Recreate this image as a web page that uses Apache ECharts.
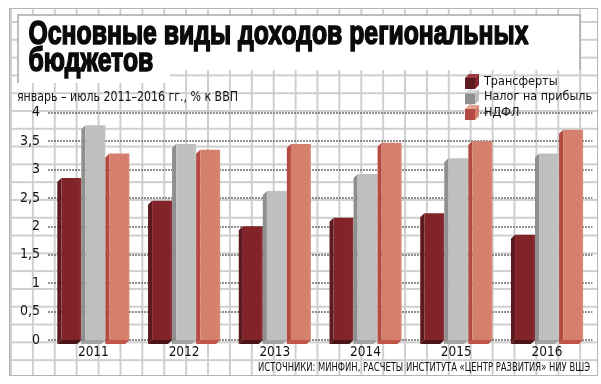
<!DOCTYPE html>
<html>
<head>
<meta charset="utf-8">
<script src="https://cdn.jsdelivr.net/npm/echarts@6/dist/echarts.min.js"></script>
<style>
  html, body { margin: 0; padding: 0; background: #fff; }
  #wrap { position: relative; width: 601px; height: 384px; overflow: hidden; background: #fff; }
  #paper {
    position: absolute; left: 9px; top: 8px; width: 587px; height: 366px;
    border: 1.5px solid #b4b4b4;
    background-image:
      linear-gradient(to right, #cfcfcf 1.5px, transparent 1.5px),
      linear-gradient(to bottom, #cfcfcf 1.5px, transparent 1.5px);
    background-size: 21.9px 17.8px;
    background-position: 0 0, 0 12px;
  }
  #chart { position: absolute; left: 0; top: 0; width: 601px; height: 384px; }
</style>
</head>
<body>
<div id="wrap">
  <div id="paper"></div>
  <div id="chart"></div>
</div>
<script>
// ---- data ----
const categories = ['2011', '2012', '2013', '2014', '2015', '2016'];
const transfers  = [2.85, 2.45, 2.0, 2.15, 2.23, 1.85];
const profitTax  = [3.78, 3.45, 2.62, 2.92, 3.2, 3.28];
const ndfl       = [3.28, 3.35, 3.45, 3.47, 3.5, 3.7];
const yTicks = [0, 0.5, 1, 1.5, 2, 2.5, 3, 3.5, 4];
const seriesNames = ['Трансферты', 'Налог на прибыль', 'НДФЛ'];
const titleLines = ['Основные виды доходов региональных', 'бюджетов'];
const subtitleText = 'январь – июль 2011–2016 гг., % к ВВП';
const sourceText = 'ИСТОЧНИКИ: МИНФИН, РАСЧЕТЫ ИНСТИТУТА «ЦЕНТР РАЗВИТИЯ» НИУ ВШЭ';

const palette = [
  { front: '#822329', side: '#5a1a1e', bottom: '#481418', top: '#9a3a40' },
  { front: '#bec0bf', side: '#8e908f', bottom: '#a3a5a4', top: '#d8d9d8' },
  { front: '#d5806d', side: '#b44a41', bottom: '#bf5649', top: '#e6a391' }
];

const FONT = '"DejaVu Sans Condensed", "Liberation Sans", sans-serif';
const TITLE_FONT = '"Liberation Sans", Arial, sans-serif';

const mctx = document.createElement('canvas').getContext('2d');
function fitScale(text, fontStr, target) {
  mctx.font = fontStr;
  const w = mctx.measureText(text).width;
  return w > 0 ? target / w : 1;
}

function cubeIcon(c) {
  const svg = "<svg xmlns='http://www.w3.org/2000/svg' width='14' height='15' viewBox='0 0 14 15'>" +
    "<polygon points='0,4 4,0 14,0 10,4' fill='" + c.top + "'/>" +
    "<polygon points='0,4 10,4 10,15 0,15' fill='" + c.side + "'/>" +
    "<polygon points='10,4 14,0 14,11 10,15' fill='" + c.front + "'/>" +
    "</svg>";
  return 'image://data:image/svg+xml;charset=utf-8,' + encodeURIComponent(svg);
}

function makeRender(sIdx) {
  return function (params, api) {
    const cat = api.value(0);
    const val = api.value(1);
    const base = api.coord([cat, 0]);
    const top = api.coord([cat, val]);
    const band = api.size([1, 0])[0];
    const slot = band * 0.265;
    const dx = slot * 0.17;
    const dy = 4;
    const start = base[0] - 1.5 * slot;
    const L = start + sIdx * slot;
    const R = L + slot;
    const y0 = base[1];
    const y1 = top[1];
    const c = palette[sIdx];
    return {
      type: 'group',
      children: [
        { type: 'polygon', shape: { points: [[L + dx, y0], [R, y0], [R - dx, y0 + dy], [L, y0 + dy]] },
          style: { fill: c.bottom } },
        { type: 'polygon', shape: { points: [[L + dx, y1], [L, y1 + dy], [L, y0 + dy], [L + dx, y0]] },
          style: { fill: c.side } },
        { type: 'rect', shape: { x: L + dx, y: y1, width: R - L - dx, height: y0 - y1 },
          style: { fill: {
            type: 'linear', x: 0, y: 0, x2: 1, y2: 0,
            colorStops: [{ offset: 0, color: c.front }, { offset: 0.85, color: c.front }, { offset: 1, color: echarts.color.lift(c.front, 0.08) }]
          } } }
      ]
    };
  };
}

const seriesData = [transfers, profitTax, ndfl];

const titleSize = 33;
const titleScale = fitScale(titleLines[0], 'bold ' + titleSize + 'px ' + TITLE_FONT, 500);
const subSize = 13.5;
const subScale = fitScale(subtitleText, subSize + 'px ' + FONT, 221);
const srcSize = 11.5;
const srcScale = fitScale(sourceText, srcSize + 'px ' + FONT, 332);

function titleText(txt, y) {
  return { type: 'text', z: 3, silent: true, x: 28.5, y: y, scaleX: titleScale, originX: 0,
    style: { text: txt, fontFamily: TITLE_FONT, fontWeight: 'bold', fontSize: titleSize,
      fill: '#0a0a0a', stroke: '#0a0a0a', lineWidth: 1.6, align: 'left', verticalAlign: 'middle' } };
}

const chart = echarts.init(document.getElementById('chart'), null, { renderer: 'canvas' });
chart.setOption({
  backgroundColor: 'transparent',
  animation: false,
  graphic: [
    { type: 'polygon', z: 1, silent: true,
      shape: { points: [[18, 15], [580, 15], [580, 70], [170, 70], [170, 83], [18, 83]] },
      style: { fill: '#ffffff' } },
    { type: 'polyline', z: 2, silent: true,
      shape: { points: [[18, 83], [18, 15], [580, 15], [580, 70]] },
      style: { stroke: '#a8a8a8', lineWidth: 1.5, fill: null } },
    titleText(titleLines[0], 34.5),
    titleText(titleLines[1], 61.5),
    { type: 'text', z: 3, silent: true, x: 17, y: 97, scaleX: subScale, originX: 0,
      style: { text: subtitleText, fontFamily: FONT, fontSize: subSize, fill: '#111', align: 'left', verticalAlign: 'middle' } },
    { type: 'text', z: 3, silent: true, x: 590, y: 368, scaleX: srcScale, originX: 0,
      style: { text: sourceText, fontFamily: FONT, fontSize: srcSize, fill: '#111', align: 'right', verticalAlign: 'middle' } }
  ],
  legend: {
    orient: 'vertical', left: 465, top: 74, padding: 0,
    itemWidth: 14, itemHeight: 15, itemGap: 0.5,
    textStyle: { fontFamily: FONT, fontSize: 12.5, color: '#111' },
    data: seriesNames.map((n, i) => ({ name: n, icon: cubeIcon(palette[i]) }))
  },
  grid: { left: 48, right: 8.6, top: 112.7, bottom: 44, containLabel: false },
  xAxis: {
    type: 'category', data: categories,
    axisLine: { show: false }, axisTick: { show: false },
    axisLabel: { fontFamily: FONT, fontSize: 13.5, color: '#111', margin: 5 }
  },
  yAxis: {
    type: 'value', min: 0, max: 4, interval: 0.5,
    axisLine: { show: false }, axisTick: { show: false },
    axisLabel: { fontFamily: FONT, fontSize: 14, color: '#111', margin: 8,
      formatter: v => (yTicks.indexOf(v) >= 0 ? String(v).replace('.', ',') : '') },
    splitLine: { lineStyle: { type: [2, 1], color: '#6e6e6e', width: 1.5 } }
  },
  series: seriesNames.map((name, i) => ({
    type: 'custom', name,
    itemStyle: { color: palette[i].front },
    renderItem: makeRender(i),
    encode: { x: 0, y: 1 },
    data: seriesData[i].map((v, k) => [k, v]),
    z: 3 + i
  }))
});
</script>
</body>
</html>
